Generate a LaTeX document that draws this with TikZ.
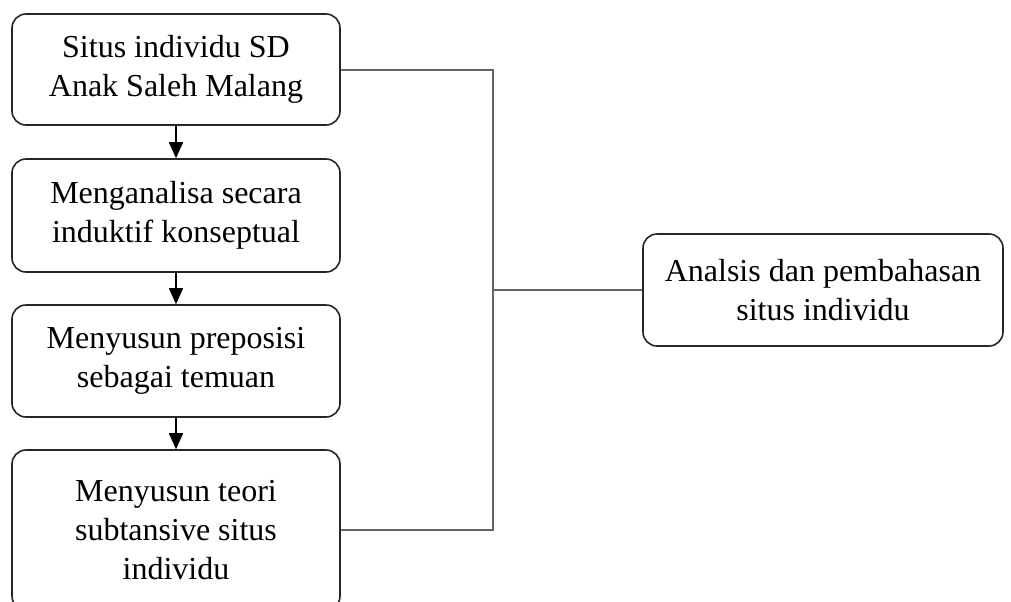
\documentclass[tikz,border=0pt]{standalone}
\usepackage{fontspec}
\setmainfont{Liberation Serif}
\usetikzlibrary{arrows.meta,positioning}

\begin{document}
\begin{tikzpicture}[x=0.5pt,y=-0.5pt,
	step box/.style={draw=black!85,line width=0.8pt,rounded corners=7pt,
		inner sep=0pt,align=center,minimum width=164pt,
		font=\fontsize{16}{19.5}\selectfont},
	flow/.style={-{Triangle[width=7pt,length=8pt]},line width=0.8pt},
	link/.style={draw=black!60,line width=1pt}
	]
	\useasboundingbox (0,0) rectangle (1011,601);
	\clip (0,0) rectangle (1011,601);
	% left column
	\node[step box,minimum height=55.5pt] (situs) at (176,69.5) {Situs individu SD\\Anak Saleh Malang};
	\node[step box,minimum height=56.5pt] (analisa) at (176,215.5) {Menganalisa secara\\induktif konseptual};
	\node[step box,minimum height=56pt] (preposisi) at (176,361) {Menyusun preposisi\\sebagai temuan};
	\node[step box,minimum height=80pt] (teori) at (176,530) {Menyusun teori\\subtansive situs\\individu};
	% right box
	\node[step box,minimum width=180pt,minimum height=56pt] (hasil) at (823,290) {Analsis dan pembahasan\\situs individu};
	% arrows
	\draw[flow] (situs) -- (analisa);
	\draw[flow] (analisa) -- (preposisi);
	\draw[flow] (preposisi) -- (teori);
	% bracket
	\coordinate (bus) at (493,290);
	\draw[link] (situs.east) -| (bus) |- (teori.east);
	\draw[link] (bus) -- (hasil.west);
\end{tikzpicture}
\end{document}
